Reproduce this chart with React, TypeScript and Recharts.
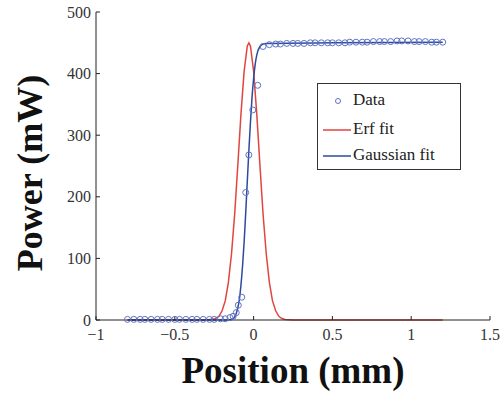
import { ComposedChart, Line, Scatter, XAxis, YAxis, Legend } from "recharts"

const xTicks = [-1, -0.5, 0, 0.5, 1, 1.5]
const yTicks = [0, 100, 200, 300, 400, 500]

// measured points (blue circles)
const dataX = [
  -0.8, -0.76, -0.72, -0.69, -0.65, -0.61, -0.58, -0.54, -0.5, -0.47, -0.43, -0.39, -0.36, -0.32, -0.28, -0.25,
  -0.21, -0.18, -0.15, -0.13, -0.11, -0.097, -0.075, -0.05, -0.03, -0.005, 0.026, 0.06, 0.1, 0.14, 0.17, 0.21,
  0.25, 0.28, 0.32, 0.36, 0.39, 0.43, 0.47, 0.5, 0.54, 0.58, 0.61, 0.65, 0.69, 0.72, 0.76, 0.8, 0.83, 0.87, 0.91,
  0.94, 0.98, 1.02, 1.05, 1.09, 1.13, 1.16, 1.2,
]
const dataY = [
  1, 1, 1, 1, 1, 1, 1, 1, 1, 1, 1, 1, 1, 1, 1, 1, 2, 2, 4, 6, 12, 24, 37, 207, 268, 341, 381, 444, 447, 448, 448,
  449, 449, 449, 449, 450, 450, 450, 450, 450, 450, 450, 451, 451, 451, 451, 452, 452, 452, 452, 453, 453, 453,
  452, 452, 452, 451, 451, 451,
]

// red curve ("Erf fit")
const erfX = [
  -0.8, -0.3, -0.25, -0.22, -0.2, -0.18, -0.16, -0.14, -0.12, -0.1, -0.08, -0.06, -0.04, -0.03, -0.02, 0, 0.02,
  0.04, 0.06, 0.08, 0.1, 0.12, 0.14, 0.16, 0.18, 0.2, 0.25, 1.2,
]
const erfY = [
  0, 0, 1.5, 6, 15, 31, 61, 108, 172, 252, 335, 404, 445, 450, 445, 404, 335, 252, 172, 108, 61, 31, 15, 6, 2.4,
  0.9, 0, 0,
]

// blue curve ("Gaussian fit")
const gaussX = [
  -0.8, -0.2, -0.16, -0.14, -0.12, -0.1, -0.09, -0.08, -0.07, -0.06, -0.05, -0.04, -0.03, -0.02, -0.01, 0, 0.01,
  0.02, 0.04, 0.06, 0.08, 0.5, 1.2,
]
const gaussY = [
  0, 0, 0.1, 0.9, 5, 20, 34, 57, 88, 127, 174, 225, 275, 321, 361, 392, 415, 430, 444, 448, 449, 450, 451,
]

const points = dataX.map((x, i) => ({ x, y: dataY[i] }))
const erfLine = erfX.map((x, i) => ({ x, y: erfY[i] }))
const gaussLine = gaussX.map((x, i) => ({ x, y: gaussY[i] }))

const RED = "#e0463f"
const BLUE = "#2d4b9e"
const DOTS = "#5f72c4"
const AXIS = "#222"
const SERIF = "'Liberation Serif', 'Times New Roman', serif"

const fmt = (v: number) => (v < 0 ? "\u2212" + Math.abs(v) : String(v))

function LegendBox() {
  return (
    <div
      style={{
        width: 144,
        height: 87,
        border: "1.5px solid #333",
        background: "#fff",
        fontFamily: SERIF,
        fontSize: 17,
        color: "#222",
        boxSizing: "border-box",
        position: "relative",
      }}
    >
      <svg width={40} height={87} style={{ position: "absolute", left: 0, top: 0 }}>
        <circle cx={20} cy={17} r={2.5} fill="none" stroke={DOTS} strokeWidth={1} />
        <line x1={5} x2={33} y1={46} y2={46} stroke={RED} strokeWidth={1.5} />
        <line x1={5} x2={33} y1={72} y2={72} stroke={BLUE} strokeWidth={1.5} />
      </svg>
      <div style={{ position: "absolute", left: 35, top: 6, lineHeight: "20px" }}>Data</div>
      <div style={{ position: "absolute", left: 35, top: 35, lineHeight: "20px" }}>Erf fit</div>
      <div style={{ position: "absolute", left: 35, top: 61, lineHeight: "20px" }}>Gaussian fit</div>
    </div>
  )
}

export default function App() {
  return (
    <div
      style={{
        position: "absolute",
        left: 0,
        top: 0,
        width: 504,
        height: 394,
        background: "#fff",
        fontFamily: SERIF,
      }}
    >
      <ComposedChart
        width={504}
        height={394}
        margin={{ top: 12, right: 14, bottom: 0, left: 0 }}
        style={{ fontFamily: SERIF }}
      >
        <XAxis
          dataKey="x"
          type="number"
          domain={[-1, 1.5]}
          ticks={xTicks}
          height={74}
          tickFormatter={fmt}
          tickSize={-4}
          tickMargin={13}
          stroke={AXIS}
          tick={{ fill: "#333", fontSize: 16, fontFamily: SERIF }}
        />
        <XAxis
          xAxisId="top"
          orientation="top"
          type="number"
          domain={[-1, 1.5]}
          ticks={xTicks}
          height={0}
          tickSize={-4}
          tickFormatter={() => ""}
          stroke={AXIS}
        />
        <YAxis
          dataKey="y"
          type="number"
          domain={[0, 500]}
          ticks={yTicks}
          width={96}
          tickSize={-4}
          tickMargin={9}
          stroke={AXIS}
          tick={{ fill: "#333", fontSize: 16, fontFamily: SERIF }}
        />
        <YAxis
          yAxisId="right"
          orientation="right"
          type="number"
          domain={[0, 500]}
          ticks={yTicks}
          width={0}
          tickSize={-4}
          tickFormatter={() => ""}
          stroke={AXIS}
        />
        <Line
          data={erfLine}
          dataKey="y"
          type="linear"
          stroke={RED}
          strokeWidth={1.5}
          dot={false}
          isAnimationActive={false}
        />
        <Scatter
          data={points}
          dataKey="y"
          isAnimationActive={false}
          shape={(p: any) => <circle cx={p.cx} cy={p.cy} r={3} fill="none" stroke={DOTS} strokeWidth={1} />}
        />
        <Line
          data={gaussLine}
          dataKey="y"
          type="monotone"
          stroke={BLUE}
          strokeWidth={1.5}
          dot={false}
          isAnimationActive={false}
        />
        <Legend
          layout="vertical"
          align="center"
          verticalAlign="middle"
          content={() => <LegendBox />}
          wrapperStyle={{ position: "absolute", left: 317, top: 83, width: 144, height: 87 }}
        />
      </ComposedChart>
      <svg width={504} height={394} style={{ position: "absolute", left: 0, top: 0, pointerEvents: "none" }}>
        <text
          x={293}
          y={383}
          textAnchor="middle"
          fontFamily={SERIF}
          fontWeight="bold"
          fontSize={37}
          fill="#111"
        >
          Position (mm)
        </text>
        <text
          transform="translate(42,173) rotate(-90)"
          textAnchor="middle"
          fontFamily={SERIF}
          fontWeight="bold"
          fontSize={36}
          fill="#111"
        >
          Power (mW)
        </text>
      </svg>
    </div>
  )
}
